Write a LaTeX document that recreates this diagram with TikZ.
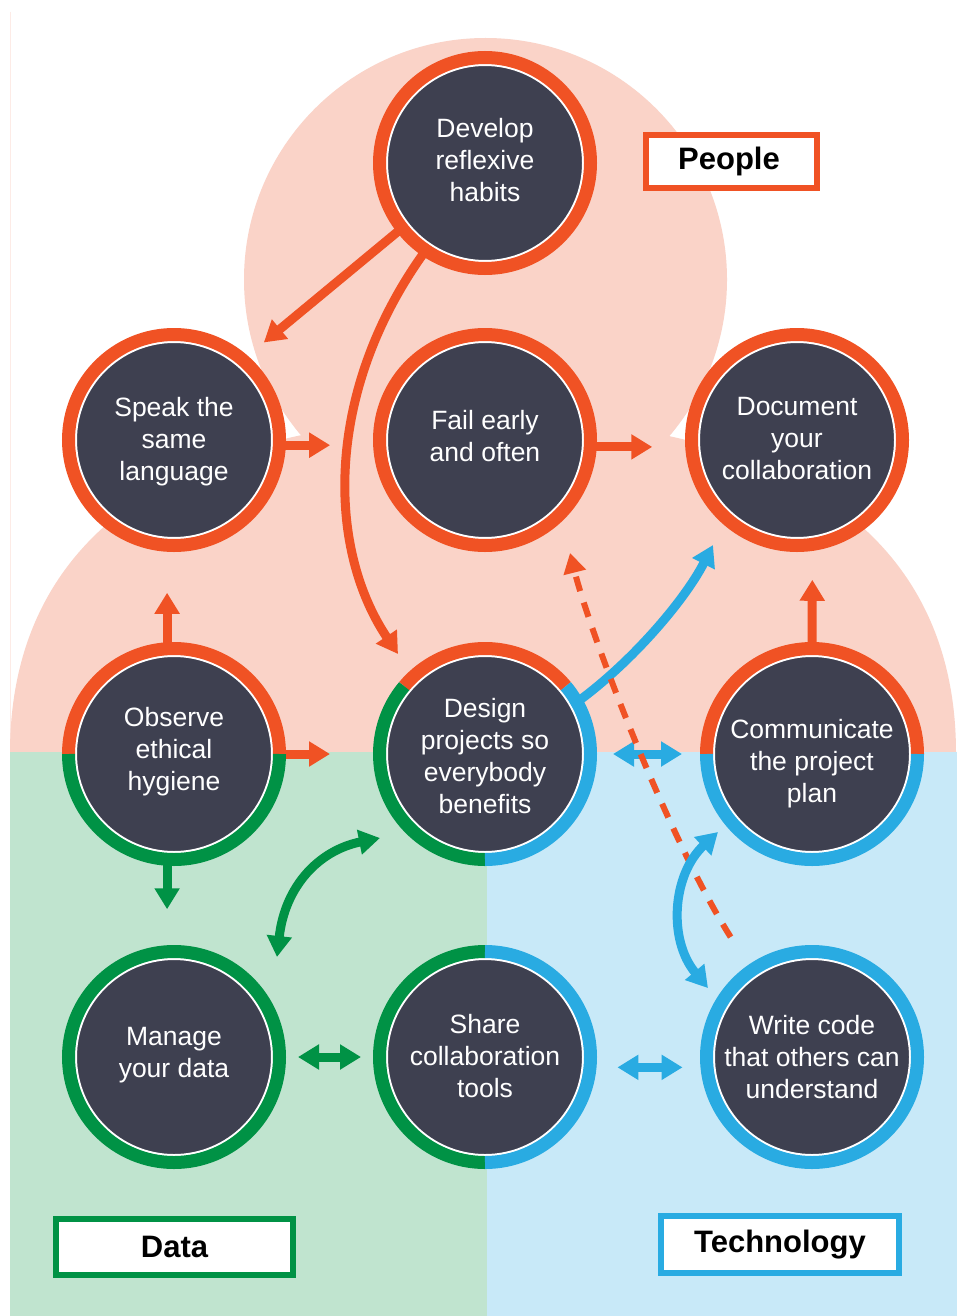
\documentclass[tikz,border=0pt]{standalone}
\usepackage{fontspec}
\setmainfont{Liberation Sans}
\usetikzlibrary{arrows.meta,calc}
\pgfdeclarelayer{bg}
\pgfdeclarelayer{arr}
\pgfsetlayers{bg,arr,main}
\definecolor{cO}{HTML}{F05224}
\definecolor{cG}{HTML}{009245}
\definecolor{cB}{HTML}{29ABE2}
\definecolor{cD}{HTML}{3E4050}
\definecolor{bgP}{HTML}{FAD3C8}
\definecolor{bgG}{HTML}{C0E4CF}
\definecolor{bgB}{HTML}{C8E9F8}
\begin{document}
\begin{tikzpicture}[x=1pt,y=-1pt,
  circ/.style={circle, minimum size=196pt, inner sep=0pt, fill=cD, draw=white, line width=2pt},
  ctxt/.style={inner sep=0pt, text=white, align=center, font=\fontsize{26.5pt}{32pt}\selectfont},
  ring/.style={line width=13pt},
  arw/.style={line width=9pt, -{Triangle[length=21pt,width=24pt]}},
  darw/.style={line width=9pt, {Triangle[length=21pt,width=24pt]}-{Triangle[length=21pt,width=24pt]}},
  dash arw/.style={line width=6pt, dash pattern=on 15pt off 12pt, -{Triangle[length=20pt,width=22pt]}},
  lbl/.style={draw, line width=6pt, fill=white, text=black, inner sep=0pt,
    font=\fontsize{31pt}{36pt}\selectfont\bfseries}]
\useasboundingbox (0,0) rectangle (957,1316);
\begin{pgfonlayer}{bg}
  \fill[white] (0,0) rectangle (957,1316);
  \draw[bgP!45, line width=1pt] (10,12) -- (10,752);
  \fill[bgP] (485.5,279.5) circle (241.5pt);
  \fill[bgP] (10,753) .. controls (10,533) and (183,418) .. (483,418)
     .. controls (783,418) and (956,533) .. (956,753) -- cycle;
  \fill[bgG] (10,752) rectangle (487,1316);
  \fill[bgB] (487,752) rectangle (957,1316);
\end{pgfonlayer}

% circles
\node[circ] (dev) at (485,163) {};
\node[circ] (spk) at (174,440) {};
\node[circ] (fail) at (485,440) {};
\node[circ] (doc) at (797,440) {};
\node[circ] (obs) at (174,754) {};
\node[circ] (des) at (485,754) {};
\node[circ] (com) at (812,754) {};
\node[circ] (man) at (174,1057) {};
\node[circ] (shr) at (485,1057) {};
\node[circ] (wri) at (812,1057) {};

% texts
\node[ctxt] (devt) at (485,160) {Develop\\reflexive\\habits};
\node[ctxt] (spkt) at (174,442) {Speak the\\same\\language};
\node[ctxt] (failt) at (485,436) {Fail early\\and often};
\node[ctxt] (doct) at (797,439) {Document\\your\\collaboration};
\node[ctxt] (obst) at (174,752) {Observe\\ethical\\hygiene};
\node[ctxt] (dest) at (485,756) {Design\\projects so\\everybody\\benefits};
\node[ctxt] (comt) at (812,764) {Communicate\\the project\\plan};
\node[ctxt] (mant) at (174,1055) {Manage\\your data};
\node[ctxt] (shrt) at (485,1056) {Share\\collaboration\\tools};
\node[ctxt] (writ) at (812,1057) {Write code\\that others can\\understand};

% rings
\foreach \n in {dev,spk,fail,doc}{\draw[cO,ring] (\n.center) circle (105.5pt);}
\draw[cG,ring] (man.center) circle (105.5pt);
\draw[cB,ring] (wri.center) circle (105.5pt);
\draw[cO,ring] ($(obs.center)+(0:105.5pt)$) arc[start angle=0,end angle=180,radius=105.5pt];
\draw[cG,ring] ($(obs.center)+(180:105.5pt)$) arc[start angle=180,end angle=360,radius=105.5pt];
\draw[cO,ring] ($(com.center)+(0:105.5pt)$) arc[start angle=0,end angle=180,radius=105.5pt];
\draw[cB,ring] ($(com.center)+(180:105.5pt)$) arc[start angle=180,end angle=360,radius=105.5pt];
\draw[cG,ring] ($(shr.center)+(90:105.5pt)$) arc[start angle=90,end angle=270,radius=105.5pt];
\draw[cB,ring] ($(shr.center)+(270:105.5pt)$) arc[start angle=270,end angle=450,radius=105.5pt];
\draw[cO,ring] ($(des.center)+(40:105.5pt)$) arc[start angle=40,end angle=140,radius=105.5pt];
\draw[cG,ring] ($(des.center)+(140:105.5pt)$) arc[start angle=140,end angle=270,radius=105.5pt];
\draw[cB,ring] ($(des.center)+(270:105.5pt)$) arc[start angle=270,end angle=400,radius=105.5pt];

% labels
\node[lbl, draw=cO, minimum width=171pt, minimum height=53pt] (lpeople) at (731.5,161.5) {\hspace*{-5pt}People};
\node[lbl, draw=cG, minimum width=237pt, minimum height=56pt] (ldata) at (174.5,1247) {Data};
\node[lbl, draw=cB, minimum width=238pt, minimum height=57pt] (ltech) at (780,1244.5) {\raisebox{-2pt}{Technology}};

% tip coordinates
\coordinate (tDes) at (398,654);
\coordinate (tDoc) at (713,545);
\coordinate (tFail) at (570,553);
\coordinate (tWri) at (708,988);
\coordinate (tCom) at (718,832);
\coordinate (tMan) at (277,957);
\coordinate (tDes2) at (380,838);

\begin{pgfonlayer}{arr}
  \draw[arw,cO,shorten >=34pt] (dev.218) -- (spk.50);
  \draw[arw,cO] (dev.236) .. controls (325,385) and (325,545) .. (tDes);
  \draw[arw,cO,shorten >=56pt] (spk.-3) -- (fail.183);
  \draw[arw,cO,shorten >=46pt] (fail.-4) -- (doc.184);
  \draw[arw,cO,shorten >=54pt] (obs.94) -- (spk.266);
  \draw[arw,cO,shorten >=56pt] (obs.east) -- (des.west);
  \draw[arw,cG,shorten >=49pt] (obs.-94) -- (man.94);
  \draw[arw,cO,shorten >=42pt] (com.90) -- (doc.-81);
  \draw[arw,cB] (des.29) .. controls (630,665) and (685,600) .. (tDoc);
  \draw[darw,cB,shorten <=29pt,shorten >=31pt] (des.east) -- (com.west);
  \draw[dash arw,cO,shorten <=46pt] (wri.125) .. controls (668,838) and (590,633) .. (tFail);
  \draw[darw,cB] (tWri) .. controls (668,940) and (672,875) .. (tCom);
  \draw[darw,cG] (tMan) .. controls (285,885) and (320,850) .. (tDes2);
  \draw[darw,cG,shorten <=25pt,shorten >=25pt] (man.east) -- (shr.west);
  \draw[darw,cB,shorten <=34pt,shorten >=31pt] (shr.-6) -- (wri.186);
\end{pgfonlayer}
\end{tikzpicture}
\end{document}
